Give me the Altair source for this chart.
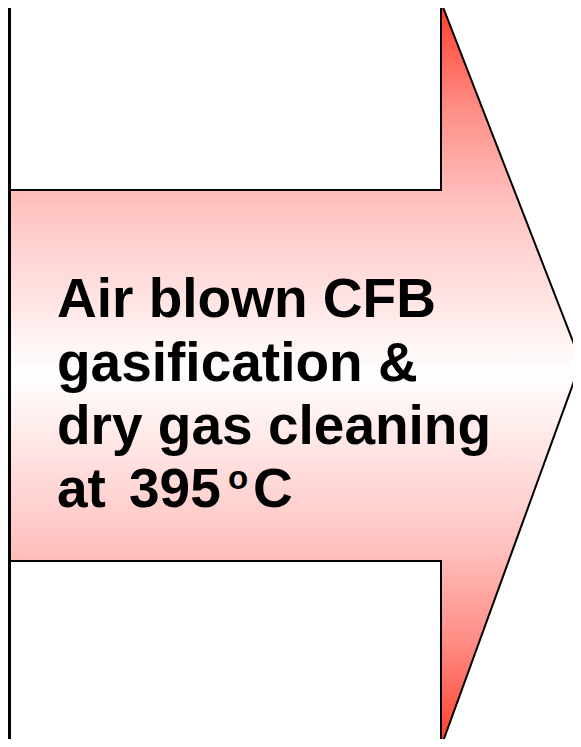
import altair as alt
import pandas as pd

# Arrow outline, in picture pixel coordinates (shaft then head)
arrow_x = [7, 441, 441.01, 581]
arrow_top = [190, 190, 2, 362]
arrow_bottom = [561, 561, 747, 362]

# Label text
label_lines = ["Air blown CFB", "gasification &", "dry gas cleaning"]
last_line_parts = ["at", "395", "o", "C"]

W, H = 565, 731
OFF = 8  # page margin

arrow_df = pd.DataFrame({"x": arrow_x, "top": arrow_top, "bottom": arrow_bottom})

xs = alt.Scale(domain=[OFF, OFF + W], nice=False, zero=False)
ys = alt.Scale(domain=[OFF, OFF + H], nice=False, zero=False, reverse=True)

red = "#ff3b2b"
grad = alt.Gradient(
    gradient="linear", x1=0, y1=0, x2=0, y2=1,
    stops=[
        alt.GradientStop(color=red, offset=0),
        alt.GradientStop(color="#ff8c84", offset=0.14),
        alt.GradientStop(color="#ffc2c0", offset=0.27),
        alt.GradientStop(color="#ffffff", offset=0.5),
        alt.GradientStop(color="#ffc2c0", offset=0.73),
        alt.GradientStop(color="#ff8c84", offset=0.86),
        alt.GradientStop(color=red, offset=1),
    ],
)

arrow = alt.Chart(arrow_df).mark_area(
    fill=grad, stroke="black", strokeWidth=2, interpolate="linear", clip=True
).encode(
    x=alt.X("x:Q", scale=xs, axis=None),
    y=alt.Y("top:Q", scale=ys, axis=None, stack=None),
    y2="bottom:Q",
)

left_rule = alt.Chart(pd.DataFrame({"a": [0]})).mark_rule(
    color="black", strokeWidth=3
).encode(x=alt.value(1.5), y=alt.value(0), y2=alt.value(H))

FONT = "Liberation Sans"
SIZE = 55
baselines = [317, 381, 444]

layers = [arrow, left_rule]
for line, base in zip(label_lines, baselines):
    layers.append(
        alt.Chart(pd.DataFrame({"t": [line]})).mark_text(
            font=FONT, fontWeight="bold", fontSize=SIZE, align="left",
            baseline="alphabetic", color="black"
        ).encode(text="t:N", x=alt.value(57 - OFF), y=alt.value(base - OFF))
    )

part_pos = [(57, 507, SIZE), (129, 507, SIZE), (228, 489, 33), (253, 507, SIZE)]
for part, (px, py, fs) in zip(last_line_parts, part_pos):
    layers.append(
        alt.Chart(pd.DataFrame({"t": [part]})).mark_text(
            font=FONT, fontWeight="bold", fontSize=fs, align="left",
            baseline="alphabetic", color="black"
        ).encode(text="t:N", x=alt.value(px - OFF), y=alt.value(py - OFF))
    )

chart = alt.layer(*layers).properties(
    width=W, height=H, padding=0,
    autosize=alt.AutoSizeParams(type="none"), background="white"
).configure_view(strokeWidth=0)

chart.save("out.html", embed_options={"renderer": "svg", "actions": False})
